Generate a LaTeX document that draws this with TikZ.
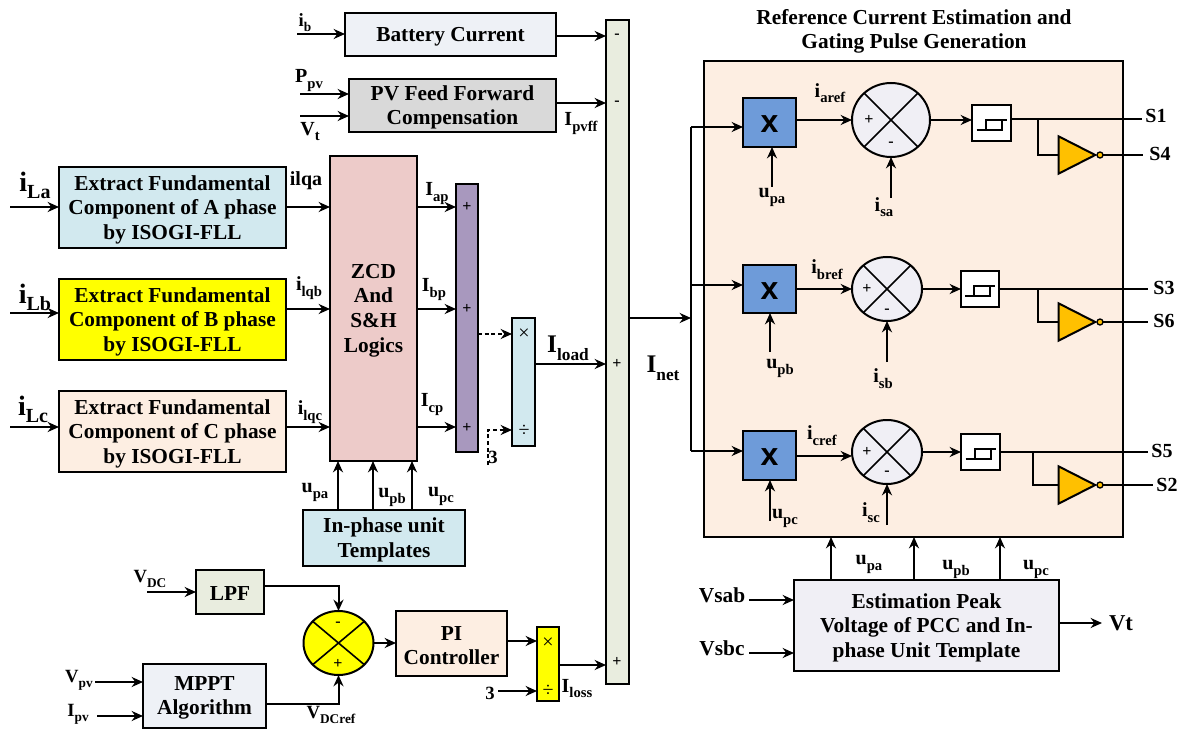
\documentclass[tikz,border=0pt]{standalone}
\usepackage{fontspec}
\setmainfont{Liberation Serif}
\newfontfamily\lsans{Liberation Sans}
\usetikzlibrary{arrows.meta,shapes.geometric}
\definecolor{cBlue}{HTML}{D2E9EF}
\definecolor{cPeach}{HTML}{FDEEE2}
\definecolor{cSteel}{HTML}{EEF1F6}
\definecolor{cGray}{HTML}{D9D9D9}
\definecolor{cRose}{HTML}{EDCBC9}
\definecolor{cPurple}{HTML}{A898BE}
\definecolor{cOlive}{HTML}{E9EDDF}
\definecolor{cLav}{HTML}{F0EFF5}
\definecolor{cMul}{HTML}{6E9BD9}
\definecolor{cAmber}{HTML}{FFC000}
\definecolor{cYel}{HTML}{FFFF00}
\newcommand\lbl[4]{\node[font=\bfseries,inner sep=0pt,outer sep=0pt,yshift=-1pt] at (#1) {\fontsize{#2}{#2}\selectfont #3\raisebox{-0.28em}{\fontsize{\numexpr#2*7/10\relax}{8}\selectfont #4}};}
\newcommand\blk[7][]{\node[blockbox,fill=#7,minimum width={(#4-#2)*0.75pt},minimum height={(#5-#3)*0.75pt},#1] (#6) at ({(#2+#4)/2},{(#3+#5)/2}) {};}
\newcommand\hyst[1]{\draw[wire] ([shift={(-15,7)}]#1.center) -- ([shift={(10,7)}]#1.center) -- ([shift={(10,-3)}]#1.center) -- ([shift={(-6,-3)}]#1.center) -- ([shift={(-6,7)}]#1.center) ([shift={(10,-3)}]#1.center) -- ([shift={(15,-3)}]#1.center);}
\tikzset{
  wire/.style={line width=1.5pt,line join=miter},
  arr/.style={wire,-{Stealth[length=8.5pt,width=7.5pt]}},
  dotarr/.style={arr,densely dashed},
  blockbox/.style={draw=black,line width=1.5pt,inner sep=0pt,outer sep=0pt,rectangle},
  blocktext/.style={font=\fontsize{16}{18.4}\selectfont\bfseries,align=center,inner sep=0pt,yshift=-1.5pt},
  sumnode/.style={ellipse,draw=black,line width=1.5pt,inner sep=0pt,outer sep=0pt},
  sign/.style={font=\fontsize{12}{10}\selectfont\bfseries,inner sep=0pt},
  thinsign/.style={font=\fontsize{15}{10}\selectfont,inner sep=0pt},
  invtri/.style={isosceles triangle,isosceles triangle stretches=true,draw=black,fill=cAmber,line width=1.5pt,minimum width=28pt,minimum height=27.5pt,inner sep=0pt,outer sep=0pt},
  bubble/.style={circle,draw=black,fill=cAmber,line width=1pt,minimum size=4.5pt,inner sep=0pt,outer sep=0pt},
  mulx/.style={font=\fontsize{24}{24}\selectfont\lsans\bfseries,inner sep=0pt,yshift=-1.5pt}
}
\begin{document}
\begin{tikzpicture}[x=0.75pt,y=-0.75pt]
\useasboundingbox (0,0) rectangle (1182,731);
% panel
\blk{704}{61}{1123}{537}{panel}{cPeach}
% left blocks
\blk{345}{13}{556}{56}{bat}{cSteel}
\blk{349}{79}{556}{132}{pvf}{cGray}
\blk{59}{167}{286}{248}{exA}{cBlue}
\blk{59}{279}{286}{360}{exB}{cYel}
\blk{59}{391}{286}{472}{exC}{cPeach}
\blk{330}{156}{417}{461}{zcd}{cRose}
\blk{456}{184}{478}{452}{sumP}{cPurple}
\blk{512}{318}{535}{446}{divA}{cBlue}
\blk{606}{20}{629}{684}{bus}{cOlive}
\blk{303}{510}{465}{566}{tmpl}{cBlue}
\blk{196}{570}{264}{614}{lpf}{cOlive}
\blk{396}{611}{507}{676}{pic}{cPeach}
\blk{537}{627}{559}{701}{divB}{cYel}
\blk{143}{664}{266}{728}{mppt}{cSteel}
\blk{794}{580}{1059}{671}{est}{cLav}
% texts in blocks
\node[blocktext] at (bat.center) {Battery Current};
\node[blocktext] at (pvf.center) {PV Feed Forward\\Compensation};
\node[blocktext] at (exA.center) {Extract Fundamental\\Component of A phase\\by ISOGI-FLL};
\node[blocktext] at (exB.center) {Extract Fundamental\\Component of B phase\\by ISOGI-FLL};
\node[blocktext] at (exC.center) {Extract Fundamental\\Component of C phase\\by ISOGI-FLL};
\node[blocktext] at (zcd.center) {ZCD\\And\\S\&H\\Logics};
\node[blocktext] at (tmpl.center) {In-phase unit\\Templates};
\node[blocktext] at (lpf.center) {LPF};
\node[blocktext] at (pic.center) {PI\\Controller};
\node[blocktext] at (mppt.center) {MPPT\\Algorithm};
\node[blocktext] at (est.center) {Estimation Peak\\Voltage of PCC and In-\\phase Unit Template};
\node[blocktext] (title) at (914,29.5) {Reference Current Estimation and\\Gating Pulse Generation};
% sum yellow
\node[sumnode,fill=cYel,minimum width=52.5pt,minimum height=48pt] (sumV) at (338.5,643) {};
\draw[wire,line width=1.2pt] (sumV.40) -- (sumV.220) (sumV.140) -- (sumV.320);
\node[sign] at (338,624) {-};
\node[sign] at (338,664) {+};
% multipliers
\blk{743}{98}{796}{147}{mulA}{cMul}
\blk{743}{265}{796}{313}{mulB}{cMul}
\blk{743}{431}{796}{480}{mulC}{cMul}
\node[mulx] at (mulA.center) {x};
\node[mulx] at (mulB.center) {x};
\node[mulx] at (mulC.center) {x};
% sums
\node[sumnode,fill=cLav,minimum width=58.5pt,minimum height=55.5pt] (sumA) at (891,120) {};
\node[sumnode,fill=cLav,minimum width=52.5pt,minimum height=48pt] (sumB) at (887,289) {};
\node[sumnode,fill=cLav,minimum width=52.5pt,minimum height=48pt] (sumC) at (887,452) {};
\foreach \s in {sumA,sumB,sumC}{\draw[wire,line width=1.2pt] (\s.45) -- (\s.225) (\s.135) -- (\s.315);}
\node[sign] at (869,120) {+}; \node[sign] at (891,144) {-};
\node[sign] at (867,289) {+}; \node[sign] at (887,311) {-};
\node[sign] at (867,452) {+}; \node[sign] at (887,473) {-};
% hysteresis
\blk{972}{105}{1011}{141}{hysA}{white}
\blk{961}{271}{999}{307}{hysB}{white}
\blk{961}{434}{1000}{470}{hysC}{white}
\hyst{hysA}\hyst{hysB}\hyst{hysC}
% inverters
\node[invtri] (invA) at (1070,155) {};
\node[invtri] (invB) at (1070,322) {};
\node[invtri] (invC) at (1070,485) {};
\node[bubble] (bubA) at (1100,155) {};
\node[bubble] (bubB) at (1100,322) {};
\node[bubble] (bubC) at (1100,485) {};
% bus signs
\node[sign] at (617,36) {-};
\node[sign] at (617,103) {-};
\node[sign] at (617,364) {+};
\node[sign] at (617,662) {+};
\node[sign] at (467,207) {+};
\node[sign] at (467,309) {+};
\node[sign] at (467,428) {+};
\node[thinsign] at (524,334) {×};
\node[thinsign] at (524,431) {÷};
\node[thinsign] at (548,643) {×};
\node[thinsign] at (548,691) {÷};
% free ends
\coordinate (ibIn) at (297,34);
\coordinate (ppvIn) at (300,94);
\coordinate (vtIn) at (300,116);
\coordinate (iLaIn) at (10,207);
\coordinate (iLbIn) at (10,313);
\coordinate (iLcIn) at (10,427);
\coordinate (threeA) at (488,465);
\coordinate (threeAb) at (488,430);
\coordinate (threeB) at (498,691);
\coordinate (vdcIn) at (147,592);
\coordinate (vpvIn) at (95,682);
\coordinate (ipvIn) at (97,716);
\coordinate (vsabIn) at (749,600);
\coordinate (vsbcIn) at (749,653);
\coordinate (vtOut) at (1102,623);
\coordinate (branch) at (691,318);
\coordinate (branchT) at (691,127);
\coordinate (branchM) at (691,285);
\coordinate (branchB) at (691,451);
\coordinate (upaIn) at (772,187);
\coordinate (upbIn) at (770,352);
\coordinate (upcIn) at (770,521);
\coordinate (isaIn) at (891,198);
\coordinate (isbIn) at (887,362);
\coordinate (iscIn) at (887,525);
\coordinate (s1) at (1142,119);
\coordinate (s3) at (1148,289);
\coordinate (s5) at (1148,452);
\coordinate (s4) at (1143,155);
\coordinate (s6) at (1148,322);
\coordinate (s2) at (1153,485);
\coordinate (tapA) at (1038,119);
\coordinate (tapB) at (1038,289);
\coordinate (tapC) at (1033,452);
% connectors
\draw[arr] (ibIn) -- (bat.west |- ibIn);
\draw[arr] (ppvIn) -- (pvf.west |- ppvIn);
\draw[arr] (vtIn) -- (pvf.west |- vtIn);
\draw[arr] (bat.east |- 0,36) -- (bus.west |- 0,36);
\draw[arr] (pvf.east |- 0,103) -- (bus.west |- 0,103);
\draw[arr] (iLaIn) -- (exA.west |- iLaIn);
\draw[arr] (iLbIn) -- (exB.west |- iLbIn);
\draw[arr] (iLcIn) -- (exC.west |- iLcIn);
\draw[arr] (exA.east |- 0,207) -- (zcd.west |- 0,207);
\draw[arr] (exB.east |- 0,309) -- (zcd.west |- 0,309);
\draw[arr] (exC.east |- 0,427) -- (zcd.west |- 0,427);
\draw[arr] (zcd.east |- 0,207) -- (sumP.west |- 0,207);
\draw[arr] (zcd.east |- 0,309) -- (sumP.west |- 0,309);
\draw[arr] (zcd.east |- 0,427) -- (sumP.west |- 0,427);
\draw[dotarr] (sumP.east |- 0,334) -- (divA.west |- 0,334);
\draw[dotarr] (threeA) -- (threeAb) -- (divA.west |- threeAb);
\draw[arr] (divA.east |- 0,364) -- (bus.west |- 0,364);
\draw[arr] (tmpl.north -| 338,0) -- (zcd.south -| 338,0);
\draw[arr] (tmpl.north -| 373,0) -- (zcd.south -| 373,0);
\draw[arr] (tmpl.north -| 412,0) -- (zcd.south -| 412,0);
\draw[arr] (vdcIn) -- (lpf.west |- vdcIn);
\draw[arr] (lpf.east |- 0,586) -| (sumV.north);
\draw[arr] (vpvIn) -- (mppt.west |- vpvIn);
\draw[arr] (ipvIn) -- (mppt.west |- ipvIn);
\draw[arr] (mppt.east |- 0,704) -| (sumV.south);
\draw[arr] (sumV.east) -- (pic.west |- sumV.east);
\draw[arr] (pic.east |- 0,641) -- (divB.west |- 0,641);
\draw[arr] (threeB) -- (divB.west |- threeB);
\draw[arr] (divB.east |- 0,665) -- (bus.west |- 0,665);
\draw[arr] (bus.east |- branch) -- (branch);
\draw[wire] (branchT) -- (branchB);
\draw[arr] (branchT) -- (mulA.west |- branchT);
\draw[arr] (branchM) -- (mulB.west |- branchM);
\draw[arr] (branchB) -- (mulC.west |- branchB);
\draw[arr] (upaIn) -- (mulA.south -| upaIn);
\draw[arr] (upbIn) -- (mulB.south -| upbIn);
\draw[arr] (upcIn) -- (mulC.south -| upcIn);
\draw[arr] (isaIn) -- (sumA.south);
\draw[arr] (isbIn) -- (sumB.south);
\draw[arr] (iscIn) -- (sumC.south);
\draw[arr] (mulA.east |- sumA.west) -- (sumA.west);
\draw[arr] (mulB.east |- sumB.west) -- (sumB.west);
\draw[arr] (mulC.east |- 0,456) -- (sumC.west |- 0,456);
\draw[arr] (sumA.east) -- (hysA.west |- sumA.east);
\draw[arr] (sumB.east) -- (hysB.west |- sumB.east);
\draw[arr] (sumC.east) -- (hysC.west |- sumC.east);
\draw[wire] (hysA.east |- s1) -- (s1);
\draw[wire] (hysB.east |- s3) -- (s3);
\draw[wire] (hysC.east |- s5) -- (s5);
\draw[wire] (tapA) |- (invA.left corner |- invA.center);
\draw[wire] (tapB) |- (invB.left corner |- invB.center);
\draw[wire] (tapC) |- (invC.left corner |- invC.center);
\draw[wire] (bubA.east) -- (s4);
\draw[wire] (bubB.east) -- (s6);
\draw[wire] (bubC.east) -- (s2);
\draw[arr] (est.north -| 831,0) -- (panel.south -| 831,0);
\draw[arr] (est.north -| 914,0) -- (panel.south -| 914,0);
\draw[arr] (est.north -| 1000,0) -- (panel.south -| 1000,0);
\draw[arr] (vsabIn) -- (est.west |- vsabIn);
\draw[arr] (vsbcIn) -- (est.west |- vsbcIn);
\draw[arr] (est.east |- vtOut) -- (vtOut);
% labels
\lbl{305,21}{14}{i}{b}
\lbl{309,79}{15}{P}{pv}
\lbl{310,130}{15}{V}{t}
\lbl{581,122}{15}{I}{pvff}
\lbl{35,184}{21}{i}{La}
\lbl{35,296}{21}{i}{Lb}
\lbl{33,408}{21}{i}{Lc}
\lbl{306,180}{15}{ilqa}{}
\lbl{309,287}{15}{i}{lqb}
\lbl{310,411}{15}{i}{lqc}
\lbl{437,192}{15}{I}{ap}
\lbl{434,288}{15}{I}{bp}
\lbl{432,403}{15}{I}{cp}
\lbl{493,459}{14}{3}{}
\lbl{568,347}{19}{I}{load}
\lbl{663,367}{19}{I}{net}
\lbl{315,491}{15}{u}{pa}
\lbl{392,496}{15}{u}{pb}
\lbl{441,495}{15}{u}{pc}
\lbl{150,578}{14}{V}{DC}
\lbl{79,679}{14}{V}{pv}
\lbl{78,713}{14}{I}{pv}
\lbl{331,714}{14}{V}{DCref}
\lbl{490,695}{14}{3}{}
\lbl{577,687}{15}{I}{loss}
\lbl{830,92}{15}{i}{aref}
\lbl{827,268}{15}{i}{bref}
\lbl{822,434}{15}{i}{cref}
\lbl{772,196}{15}{u}{pa}
\lbl{780,367}{15}{u}{pb}
\lbl{785,517}{15}{u}{pc}
\lbl{884,206}{15}{i}{sa}
\lbl{883,377}{15}{i}{sb}
\lbl{871,511}{15}{i}{sc}
\lbl{1156,117}{15}{S1}{}
\lbl{1160,155}{15}{S4}{}
\lbl{1164,289}{15}{S3}{}
\lbl{1164,322}{15}{S6}{}
\lbl{1162,452}{15}{S5}{}
\lbl{1167,486}{15}{S2}{}
\lbl{869,563}{15}{u}{pa}
\lbl{956,568}{15}{u}{pb}
\lbl{1036,568}{15}{u}{pc}
\lbl{722,597}{16}{Vsab}{}
\lbl{722,650}{16}{Vsbc}{}
\lbl{1121,625}{17}{Vt}{}
\end{tikzpicture}
\end{document}
